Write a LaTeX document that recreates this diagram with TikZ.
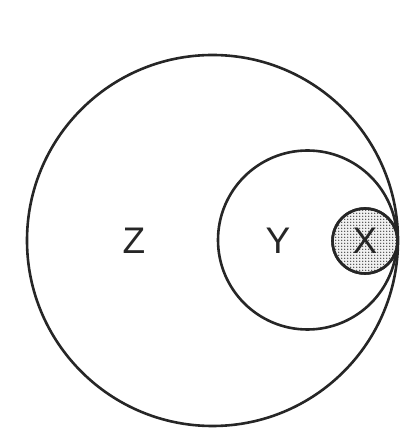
\documentclass[tikz,border=0pt]{standalone}
\usepackage{fontspec}
\setmainfont{Liberation Sans}
\usetikzlibrary{patterns}
\pgfdeclarepatternformonly{bigdots}{\pgfqpoint{-1pt}{-1pt}}{\pgfqpoint{2pt}{2pt}}{\pgfqpoint{3pt}{3pt}}{%
  \pgfpathcircle{\pgfqpoint{0pt}{0pt}}{0.75pt}\pgfusepath{fill}}
\begin{document}
\begin{tikzpicture}[x=1pt,y=1pt,
  ring/.style={circle,draw=black!85,line width=2.6pt,inner sep=0pt},
  lab/.style={font=\fontsize{37}{37}\selectfont,text=black!85,inner sep=0pt}]
\useasboundingbox (0,0) rectangle (416,447);
\node[ring,minimum size=371] (Zc) at (212.5,206.5) {};
\node[ring,minimum size=179] (Yc) at (307.5,207) {};
\node[ring,minimum size=65,fill=gray!12] (Xbg) at (365,206) {};
\node[ring,minimum size=65,pattern=bigdots,pattern color=black!85] (Xc) at (365,206) {};
\node[lab] (Zl) at (134,206) {Z};
\node[lab] (Yl) at (278,206) {Y};
\node[lab] (Xl) at (365,206) {X};
\end{tikzpicture}
\end{document}
